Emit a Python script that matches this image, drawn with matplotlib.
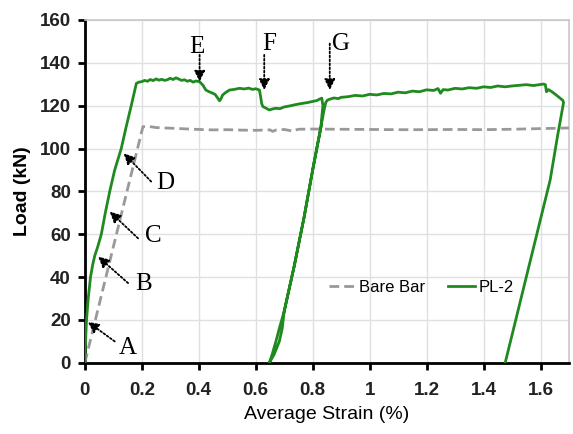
import numpy as np
import matplotlib.pyplot as plt

# Bare bar curve
bare_strain = [0, 0.204, 0.22, 0.25, 0.3, 0.35, 0.4, 0.45, 0.5, 0.55, 0.6, 0.65, 0.66,
               0.67, 0.7, 0.72, 0.73, 0.74, 0.75, 0.8, 0.9, 1.0, 1.1, 1.2, 1.3, 1.4,
               1.5, 1.6, 1.7]
bare_load = [0, 110.2, 110.4, 109.8, 109.5, 109.2, 108.9, 108.7, 108.8, 108.6, 108.5,
             108.7, 108.0, 108.6, 108.9, 108.4, 107.9, 108.6, 109.0, 109.1, 109.0,
             108.9, 108.8, 108.8, 108.9, 108.8, 109.0, 109.3, 109.6]

# PL-2 curve: first loading, unloading, reloading, final unloading
pl_strain = [0, 0.002, 0.006, 0.012, 0.02, 0.028, 0.035, 0.045, 0.058, 0.072, 0.0875,
             0.105, 0.128, 0.145, 0.163, 0.175, 0.181, 0.19, 0.2, 0.21, 0.22, 0.23,
             0.24, 0.25, 0.26, 0.27, 0.28, 0.29, 0.30, 0.31, 0.32, 0.33, 0.34, 0.35,
             0.36, 0.37, 0.38, 0.39, 0.403, 0.415, 0.425, 0.435, 0.449, 0.458, 0.467,
             0.473, 0.478, 0.484, 0.495, 0.508, 0.525, 0.543, 0.56, 0.575, 0.589,
             0.60, 0.613, 0.617, 0.621, 0.625, 0.635, 0.648, 0.66, 0.671, 0.685,
             0.70, 0.72, 0.74, 0.76, 0.78, 0.80, 0.815, 0.823, 0.832,
             0.836, 0.833, 0.829, 0.80, 0.77, 0.735, 0.70, 0.685, 0.671, 0.658, 0.648,
             0.665, 0.683, 0.693, 0.70, 0.735, 0.77, 0.80, 0.829, 0.84, 0.846,
             0.852, 0.86, 0.875, 0.89, 0.9, 0.925, 0.95, 0.975, 1.0, 1.025, 1.05,
             1.075, 1.1, 1.125, 1.15, 1.175, 1.2, 1.225, 1.24, 1.249, 1.258, 1.275,
             1.3, 1.325, 1.35, 1.375, 1.4, 1.425, 1.45, 1.475, 1.5, 1.525, 1.55,
             1.575, 1.6, 1.611, 1.617, 1.621, 1.628, 1.64, 1.655, 1.669, 1.678,
             1.681, 1.66, 1.634, 1.55, 1.476]
pl_load = [0, 8, 20, 30, 40, 46, 50, 54, 60, 70, 80,
           90, 100, 110, 120, 127, 130.4, 131.0, 131.2, 131.8, 131.4, 132.2,
           131.7, 132.5, 131.9, 132.3, 131.8, 132.1, 132.8, 132.2, 133.0, 132.4, 131.8, 132.1,
           131.4, 131.8, 131.0, 131.5, 131.2, 129.5, 127.3, 126.6, 125.8, 125.2, 123.5,
           122.3, 123.2, 125.0, 126.2, 127.3, 127.6, 128.1, 127.8, 128.2, 127.6,
           127.9, 127.3, 124.5, 121.0, 119.6, 118.9, 118.0, 118.5, 118.8, 118.6,
           119.4, 119.9, 120.5, 121.0, 121.4, 122.0, 122.4, 123.0, 123.5,
           120.0, 116.0, 110.0, 90.0, 68.0, 45.0, 24.0, 17.0, 10.0, 4.0, 0,
           4.0, 10.0, 16.0, 24.0, 45.0, 68.0, 90.0, 110.0, 118.0, 121.5,
           122.6, 123.0, 123.6, 123.3, 123.9, 124.2, 124.8, 124.5, 125.3, 125.0, 125.7,
           125.5, 126.3, 126.0, 126.8, 126.5, 127.4, 127.1, 128.0, 125.8, 127.5, 127.3,
           128.1, 127.8, 128.4, 128.1, 128.8, 128.5, 129.2, 128.8, 129.2, 129.5, 129.8,
           129.4, 129.9, 130.1, 129.8, 126.5, 127.5, 126.5, 125.0, 123.5, 122.5,
           121.5, 106.0, 85.4, 40.0, 0]

green = '#1f8a1f'

fig = plt.figure(figsize=(5.73, 4.34), dpi=100)
ax = fig.add_axes([0.148, 0.164, 0.845, 0.79])

ax.plot(bare_strain, bare_load, color='#999999', lw=2.0, ls=(0, (3.5, 1.8)),
        label='Bare Bar', zorder=3)
ax.plot(pl_strain, pl_load, color=green, lw=2.0, label='PL-2', zorder=4)

ax.set_xlim(0, 1.7)
ax.set_ylim(0, 160)
ax.set_xticks(np.arange(0, 1.61, 0.2))
ax.set_xticklabels(['0', '0.2', '0.4', '0.6', '0.8', '1', '1.2', '1.4', '1.6'])
ax.set_yticks(np.arange(0, 161, 20))
ax.grid(True, color='#e0e0e0', lw=1.0, zorder=0)
ax.set_axisbelow(True)

for s in ['top', 'right']:
    ax.spines[s].set_color('#c8c8c8')
    ax.spines[s].set_linewidth(1.2)
for s in ['left', 'bottom']:
    ax.spines[s].set_color('black')
    ax.spines[s].set_linewidth(2.0)

ax.tick_params(direction='out', length=5, width=2)
ax.tick_params(axis='x', pad=9)
ax.tick_params(axis='y', pad=5)
for lab in ax.get_xticklabels() + ax.get_yticklabels():
    lab.set_fontsize(13.5)
    lab.set_fontweight('bold')
    lab.set_family('Liberation Sans')
    lab.set_color('#222222')

ax.set_xlabel('Average Strain (%)', fontsize=14, family='Liberation Sans', labelpad=5)
ax.set_ylabel('Load (kN)', fontsize=14, family='Liberation Sans', fontweight='bold',
              labelpad=6)

leg = ax.legend(loc='center', bbox_to_anchor=(0.695, 0.219), ncol=2, frameon=False,
                handlelength=1.6, handletextpad=0.2, columnspacing=1.4,
                prop={'family': 'Liberation Sans', 'size': 12})

# annotations
serif = dict(family='Liberation Serif', fontsize=18, ha='center', va='center')
letters = ['A', 'B', 'C', 'D', 'E', 'F', 'G']
text_pos = [(0.15, 7), (0.205, 37), (0.242, 59.2), (0.284, 83.7),
            (0.393, 147.5), (0.648, 149), (0.901, 149)]
arrow_tail = [(0.105, 10), (0.152, 37.2), (0.187, 58.1), (0.233, 84.6),
              (0.403, 143.7), (0.630, 143.7), (0.860, 149)]
arrow_tip = [(0.0105, 19.1), (0.0466, 49.6), (0.0875, 70.6), (0.1365, 97.8),
             (0.403, 131.2), (0.630, 127.3), (0.860, 127.3)]

for L, tp, tail, tip in zip(letters, text_pos, arrow_tail, arrow_tip):
    ax.text(tp[0], tp[1], L, zorder=6, **serif)
    ax.annotate('', xy=tip, xytext=tail, zorder=6,
                arrowprops=dict(arrowstyle='-|>', ls=(0, (1, 1.2)), lw=1.3,
                                color='black', mutation_scale=16,
                                shrinkA=0, shrinkB=0))

fig.savefig('out.png', dpi=100)
